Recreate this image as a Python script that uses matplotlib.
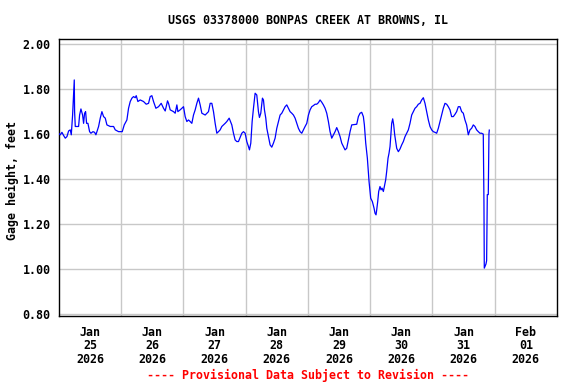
import matplotlib
matplotlib.use("Agg")
import matplotlib.pyplot as plt
import matplotlib.dates as mdates
from datetime import datetime, timedelta

title = "USGS 03378000 BONPAS CREEK AT BROWNS, IL"
ylabel = "Gage height, feet"
footer = "---- Provisional Data Subject to Revision ----"
base_time = datetime(2026, 1, 25)

# hours since 2026-01-25 00:00
hours = [-12.14, -11.50, -10.86, -10.22, -9.57, -8.93, -8.29, -7.65, -7.26, -6.75,
         -6.36, -6.11, -5.98, -5.72, -4.44, -4.05, -3.54, -2.90, -2.51, -2.13,
         -1.74, -1.36, -0.84, -0.20, 0.32, 1.09, 1.73, 2.24, 2.63, 3.27,
         3.91, 4.55, 5.19, 5.84, 6.48, 7.76, 9.05, 9.69, 10.97, 12.39,
         13.16, 14.18, 14.82, 15.47, 16.11, 16.75, 17.39, 17.78, 18.42, 19.32,
         20.60, 21.63, 22.53, 23.17, 23.81, 24.45, 25.36, 26.38, 27.41, 28.31,
         28.95, 29.85, 30.23, 30.88, 32.16, 32.80, 33.45, 33.83, 34.73, 36.01,
         36.65, 37.30, 37.94, 38.58, 39.22, 39.86, 40.51, 41.15, 41.79, 42.43,
         43.08, 44.36, 45.64, 46.29, 46.93, 47.57, 48.21, 48.85, 49.49, 50.14,
         50.78, 51.42, 52.06, 52.71, 53.61, 54.63, 55.27, 55.92, 56.56, 57.20,
         57.84, 58.49, 59.13, 59.77, 60.41, 61.05, 61.44, 61.95, 62.47, 62.98,
         63.62, 64.26, 64.90, 65.29, 65.80, 66.44, 66.83, 67.21, 67.73, 68.12,
         68.76, 69.40, 70.04, 70.68, 71.32, 71.97, 72.61, 73.25, 73.90, 74.54,
         75.18, 75.82, 76.46, 77.10, 77.75, 78.39, 79.03, 79.67, 80.31, 80.96,
         81.60, 82.24, 82.88, 83.53, 84.17, 84.81, 85.45, 86.09, 86.74, 87.38,
         88.02, 88.66, 89.30, 89.94, 90.59, 91.23, 91.87, 92.51, 93.16, 93.80,
         94.44, 95.08, 95.72, 96.37, 97.01, 97.65, 98.29, 98.93, 99.58, 100.22,
         100.86, 102.79, 103.43, 104.07, 104.71, 105.35, 105.74, 106.26, 106.89, 107.54,
         108.18, 108.82, 109.46, 109.85, 110.23, 110.49, 110.88, 111.26, 111.77, 112.16,
         112.55, 113.06, 113.44, 113.96, 114.34, 114.86, 115.24, 115.63, 116.01, 116.27,
         116.66, 117.04, 117.43, 117.81, 118.20, 118.84, 119.48, 120.12, 120.76, 121.41,
         122.05, 122.69, 123.33, 123.98, 124.62, 125.26, 125.90, 126.54, 127.19, 127.83,
         128.47, 129.11, 129.76, 130.40, 131.04, 131.68, 132.32, 132.96, 133.61, 134.25,
         134.89, 135.53, 136.17, 136.82, 137.46, 138.10, 138.74, 139.38, 140.03, 140.67,
         141.31, 141.95, 142.59, 143.24, 143.88, 144.52, 145.16, 145.80, 146.45, 147.09,
         147.73, 148.37, 149.01, 149.66, 150.30, 150.94, 151.58, 151.84, 151.97, 152.23,
         152.61, 152.87, 153.13, 153.51, 153.77, 153.90]

gage_ft = [1.603, 1.596, 1.607, 1.593, 1.581, 1.588, 1.613, 1.618, 1.596, 1.684,
           1.781, 1.840, 1.699, 1.633, 1.633, 1.684, 1.711, 1.684, 1.647, 1.692,
           1.699, 1.647, 1.647, 1.610, 1.603, 1.610, 1.607, 1.596, 1.610, 1.633,
           1.670, 1.699, 1.677, 1.670, 1.640, 1.633, 1.633, 1.618, 1.610, 1.610,
           1.640, 1.662, 1.714, 1.744, 1.759, 1.766, 1.761, 1.770, 1.744, 1.751,
           1.744, 1.732, 1.736, 1.766, 1.770, 1.744, 1.714, 1.721, 1.736, 1.714,
           1.702, 1.747, 1.736, 1.707, 1.699, 1.692, 1.729, 1.699, 1.707, 1.721,
           1.677, 1.655, 1.662, 1.655, 1.647, 1.684, 1.707, 1.736, 1.759, 1.729,
           1.692, 1.684, 1.699, 1.736, 1.736, 1.699, 1.647, 1.603, 1.610, 1.618,
           1.633, 1.640, 1.647, 1.655, 1.670, 1.640, 1.603, 1.573, 1.566, 1.566,
           1.584, 1.603, 1.610, 1.603, 1.566, 1.544, 1.529, 1.559, 1.655, 1.714,
           1.781, 1.773, 1.699, 1.673, 1.692, 1.759, 1.751, 1.707, 1.670, 1.625,
           1.588, 1.551, 1.541, 1.559, 1.581, 1.625, 1.655, 1.684, 1.692, 1.707,
           1.721, 1.729, 1.714, 1.699, 1.692, 1.684, 1.670, 1.647, 1.625, 1.610,
           1.603, 1.618, 1.633, 1.647, 1.684, 1.707, 1.721, 1.726, 1.732, 1.732,
           1.739, 1.751, 1.741, 1.729, 1.714, 1.692, 1.655, 1.610, 1.581, 1.596,
           1.610, 1.628, 1.610, 1.588, 1.559, 1.544, 1.529, 1.536, 1.573, 1.610,
           1.640, 1.643, 1.677, 1.692, 1.696, 1.677, 1.640, 1.559, 1.492, 1.388,
           1.314, 1.299, 1.270, 1.247, 1.240, 1.262, 1.299, 1.344, 1.366, 1.351,
           1.359, 1.344, 1.366, 1.396, 1.433, 1.492, 1.514, 1.544, 1.603, 1.647,
           1.667, 1.640, 1.596, 1.566, 1.536, 1.521, 1.533, 1.551, 1.566, 1.588,
           1.603, 1.618, 1.647, 1.684, 1.699, 1.714, 1.721, 1.732, 1.736, 1.751,
           1.761, 1.736, 1.699, 1.662, 1.633, 1.618, 1.610, 1.607, 1.603, 1.625,
           1.655, 1.684, 1.714, 1.736, 1.732, 1.721, 1.707, 1.677, 1.677, 1.687,
           1.699, 1.721, 1.721, 1.699, 1.692, 1.662, 1.640, 1.596, 1.618, 1.625,
           1.640, 1.633, 1.618, 1.610, 1.603, 1.603, 1.599, 1.296, 1.003, 1.010,
           1.021, 1.036, 1.330, 1.330, 1.600, 1.617]

y_ticks = [0.80, 1.00, 1.20, 1.40, 1.60, 1.80, 2.00]
x_tick_days = [datetime(2026, 1, 25) + timedelta(days=i) for i in range(8)]

times = [base_time + timedelta(hours=h) for h in hours]

font = {"family": "DejaVu Sans Mono", "weight": "bold", "size": 8.4}

fig = plt.figure(figsize=(5.76, 3.84), dpi=100)
ax = fig.add_axes([0.1024, 0.177, 0.8646, 0.7214])

ax.plot(times, gage_ft, color="#0000ff", lw=0.9, zorder=3)

ax.set_xlim(datetime(2026, 1, 24, 12), datetime(2026, 2, 1, 12))
ax.set_ylim(0.79, 2.022)

ax.set_yticks(y_ticks)
ax.set_yticklabels([f"{v:.2f}" for v in y_ticks], fontdict=font)
ax.set_xticks(x_tick_days)
ax.set_xticklabels([d.strftime("%b\n%d\n%Y") for d in x_tick_days], fontdict=font,
                   linespacing=1.05)
ax.set_xticks([d + timedelta(hours=12) for d in x_tick_days[:-1]], minor=True)

ax.tick_params(axis="both", which="both", length=0)
ax.tick_params(axis="y", pad=6)
ax.tick_params(axis="x", pad=7)

ax.grid(False)
ax.grid(True, axis="y", which="major", color="#c8c8c8", lw=1.0)
ax.grid(True, axis="x", which="minor", color="#c8c8c8", lw=1.0)
ax.set_axisbelow(True)

for s in ax.spines.values():
    s.set_color("black")
    s.set_linewidth(1.0)

fig.text(12 / 576, 1 - 180 / 384, ylabel, rotation=90, ha="center", va="center", **font)
fig.text(0.5347, 1 - 20 / 384, title, ha="center", va="center", **font)
fig.text(0.5347, 1 - 375 / 384, footer, ha="center", va="center", color="red", **font)

fig.savefig("out.png", dpi=100)
